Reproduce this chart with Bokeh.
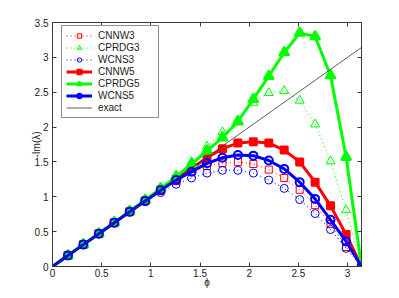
from bokeh.plotting import figure
from bokeh.models import FixedTicker, Legend, LegendItem, LinearAxis, Range1d, CustomJSTickFormatter
from bokeh.embed import file_html
from bokeh.resources import INLINE

phi = [0.0, 0.157, 0.314, 0.471, 0.628, 0.785, 0.942, 1.100, 1.257, 1.414, 1.571,
       1.728, 1.885, 2.042, 2.199, 2.356, 2.513, 2.670, 2.827, 2.985, 3.142]
cnnw3 = [0, 0.157, 0.314, 0.471, 0.628, 0.785, 0.940, 1.090, 1.225, 1.360, 1.440,
         1.480, 1.500, 1.470, 1.390, 1.270, 1.100, 0.880, 0.610, 0.280, 0]
cprdg3 = [0, 0.157, 0.315, 0.472, 0.630, 0.788, 0.950, 1.120, 1.300, 1.500, 1.720,
          1.930, 2.100, 2.350, 2.490, 2.520, 2.380, 2.040, 1.510, 0.810, 0]
wcns3 = [0, 0.157, 0.314, 0.471, 0.627, 0.782, 0.930, 1.060, 1.180, 1.270, 1.340,
         1.380, 1.380, 1.340, 1.240, 1.120, 0.960, 0.760, 0.530, 0.260, 0]
cnnw5 = [0, 0.157, 0.314, 0.471, 0.628, 0.785, 0.942, 1.100, 1.255, 1.405, 1.560,
         1.690, 1.770, 1.790, 1.770, 1.670, 1.500, 1.210, 0.870, 0.460, 0]
cprdg5 = [0, 0.157, 0.315, 0.473, 0.632, 0.792, 0.955, 1.120, 1.290, 1.470, 1.660,
          1.850, 2.080, 2.400, 2.730, 3.070, 3.350, 3.300, 2.740, 1.570, 0]
wcns5 = [0, 0.157, 0.314, 0.471, 0.628, 0.785, 0.941, 1.095, 1.240, 1.360, 1.480,
         1.560, 1.600, 1.590, 1.520, 1.400, 1.210, 0.970, 0.670, 0.360, 0]
exact_x = [0.0, 3.142]
exact_y = [0.0, 3.142]

x_ticks = [0, 0.5, 1, 1.5, 2, 2.5, 3]
y_ticks = [0, 0.5, 1, 1.5, 2, 2.5, 3, 3.5]

FONT = "Liberation Sans"
AX = "#3a3a3a"

p = figure(width=399, height=298, output_backend="svg", toolbar_location=None,
           x_range=Range1d(0, 3.1416), y_range=Range1d(0, 3.5),
           min_border_left=52, min_border_right=38, min_border_top=22, min_border_bottom=32)
p.background_fill_color = "white"
p.border_fill_color = "white"
p.outline_line_color = AX
p.xgrid.visible = False
p.ygrid.visible = False

for ax, ticks in ((p.xaxis[0], x_ticks), (p.yaxis[0], y_ticks)):
    ax.ticker = FixedTicker(ticks=ticks)
    ax.major_tick_in = 4
    ax.major_tick_out = 0
    ax.minor_tick_line_color = None
    ax.axis_line_color = AX
    ax.major_tick_line_color = AX
    ax.major_label_text_font = FONT
    ax.major_label_text_font_size = "10px"
    ax.major_label_text_color = "#222222"
    ax.axis_label_text_font = FONT
    ax.axis_label_text_font_size = "10px"
    ax.axis_label_text_font_style = "normal"
    ax.axis_label_text_color = "#222222"
p.xaxis[0].major_label_standoff = 2
p.xaxis[0].axis_label_standoff = -3
p.yaxis[0].major_label_standoff = 4
p.yaxis[0].axis_label_standoff = -10
p.xaxis[0].axis_label = "ϕ"
p.yaxis[0].axis_label = "-Im(λ)"

blank = CustomJSTickFormatter(code="return ''")
for loc, ticks in (("above", x_ticks), ("right", y_ticks)):
    a = LinearAxis(ticker=FixedTicker(ticks=ticks), formatter=blank,
                   major_tick_in=4, major_tick_out=0, minor_tick_line_color=None,
                   axis_line_color=AX, major_tick_line_color=AX,
                   major_label_standoff=0, major_label_text_font_size="1px")
    p.add_layout(a, loc)

RED, GREEN, BLUE = "#ff0000", "#00ff00", "#0000ff"

items = []

def series(name, ys, color, marker, dotted, filled, size):
    if dotted:
        ln = p.line(phi, ys, line_color=color, line_width=1, line_dash="1 3")
        lw_m = 1
    else:
        ln = p.line(phi, ys, line_color=color, line_width=3)
        lw_m = 2
    sc = p.scatter(phi[1:], ys[1:], marker=marker, size=size, line_color=color,
                   line_width=lw_m, fill_color=color if filled else None)
    items.append(LegendItem(label=name, renderers=[ln, sc]))

series("CNNW3", cnnw3, RED, "square", True, False, 7)
series("CPRDG3", cprdg3, GREEN, "triangle", True, False, 9)
series("WCNS3", wcns3, BLUE, "circle", True, False, 8)
series("CNNW5", cnnw5, RED, "square", False, True, 7)
series("CPRDG5", cprdg5, GREEN, "triangle", False, True, 10)
series("WCNS5", wcns5, BLUE, "circle", False, False, 8)

ex = p.line(exact_x, exact_y, line_color="#333333", line_width=0.8)
items.append(LegendItem(label="exact", renderers=[ex]))

leg = Legend(items=items, location=(9, 148), label_text_font=FONT,
             label_text_font_size="10px", label_text_color="#222222",
             label_height=11, glyph_height=11, glyph_width=26, spacing=1,
             padding=4, label_standoff=6, label_width=56, border_line_color="#222222",
             border_line_width=1, background_fill_color="white",
             background_fill_alpha=1.0, margin=0)
p.add_layout(leg, "center")

open("out.html", "w").write(file_html(p, INLINE))
